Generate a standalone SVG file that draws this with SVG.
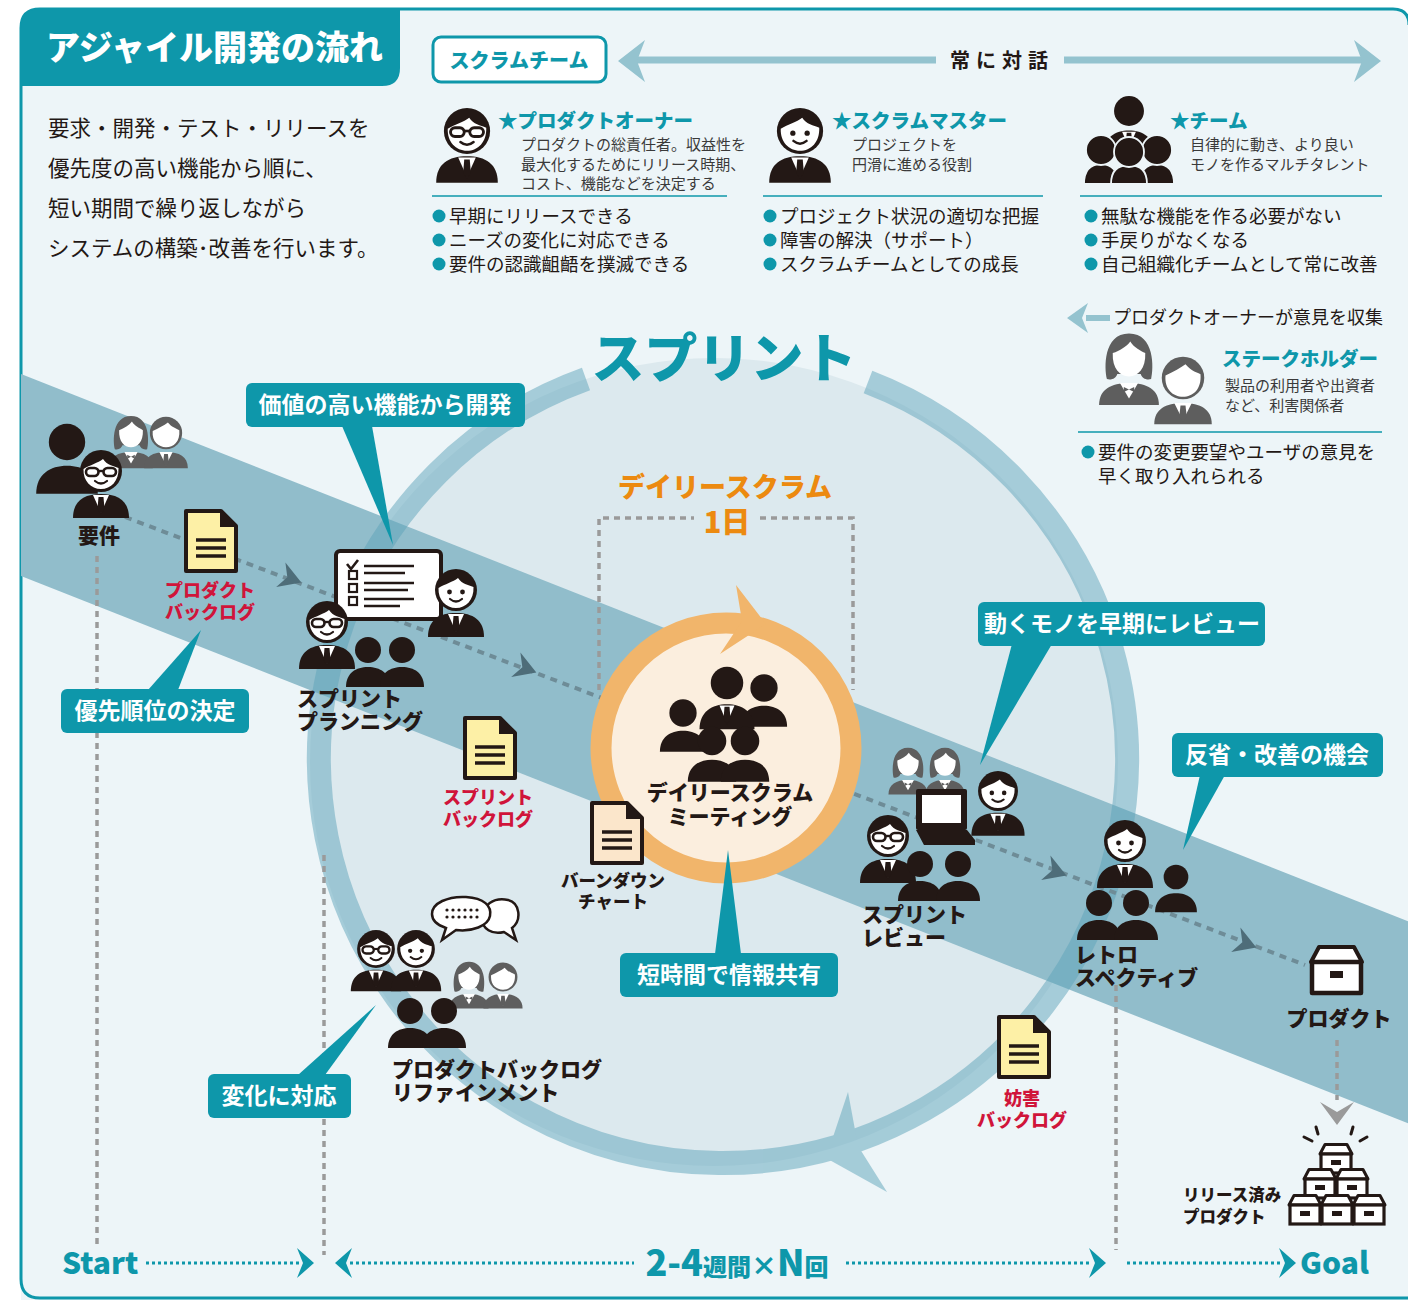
<svg xmlns="http://www.w3.org/2000/svg" width="1408" height="1300" viewBox="0 0 1408 1300">
<style>
text{font-family:"Noto Sans CJK JP","Noto Sans",sans-serif;fill:#231815}
.b{font-weight:700}
.h{font-weight:900}
.w{fill:#fff}
.t{fill:#0e97aa}
.r{fill:#d0143a}
.o{fill:#ec8a10}
.body18{font-size:18.5px}
.desc{font-size:15px;fill:#3a3a3a}
.lbl{font-size:21px;font-weight:900}
.call{fill:#0e97aa}
.calltxt{font-size:23px;font-weight:700;fill:#fff}
.rule{stroke:#0e97aa;stroke-width:1.5}
.flow{stroke:#6e8c97;stroke-width:4;stroke-dasharray:7 6;fill:none}
.vdot{stroke:#9a9a9a;stroke-width:3.5;stroke-dasharray:6 5;fill:none}
.tl{stroke:#0e97aa;stroke-width:3;stroke-dasharray:3 3;fill:none}
</style>
<defs>
  <!-- suited man with face -->
  <g id="man">
    <path d="M-28,47 C-28,30 -17,23 0,23 C17,23 28,30 28,47 Z" fill="#231815"/>
    <path d="M-8,24 L0,42 L8,24 Z" fill="#fff"/>
    <path d="M-2.5,26 H2.5 L3.5,38 L0,43 L-3.5,38 Z" fill="#231815"/>
    <circle r="21" fill="#231815"/>
    <path d="M-17.5,-2 C-11,-6 -3,-8 2,-12 C6,-6 12,-5 17.5,-3 C18,10 10,18 0,18 C-10,18 -18,10 -17.5,-2 Z" fill="#fff"/>
    <circle cx="-6.5" cy="2" r="2.4" fill="#231815"/>
    <circle cx="6.5" cy="2" r="2.4" fill="#231815"/>
    <path d="M-6,9 Q0,14 6,9" stroke="#231815" stroke-width="2.2" fill="none" stroke-linecap="round"/>
  </g>
  <!-- suited man with glasses -->
  <g id="glasses">
    <path d="M-28,47 C-28,30 -17,23 0,23 C17,23 28,30 28,47 Z" fill="#231815"/>
    <path d="M-8,24 L0,42 L8,24 Z" fill="#fff"/>
    <path d="M-2.5,26 H2.5 L3.5,38 L0,43 L-3.5,38 Z" fill="#231815"/>
    <circle r="21" fill="#231815"/>
    <path d="M-17.5,-2 C-11,-6 -3,-8 2,-12 C6,-6 12,-5 17.5,-3 C18,10 10,18 0,18 C-10,18 -18,10 -17.5,-2 Z" fill="#fff"/>
    <rect x="-15" y="-3" width="12.5" height="8" rx="4" fill="#fff" stroke="#231815" stroke-width="2.6"/>
    <rect x="2.5" y="-3" width="12.5" height="8" rx="4" fill="#fff" stroke="#231815" stroke-width="2.6"/>
    <path d="M-2.5,0 H2.5" stroke="#231815" stroke-width="2.4"/>
    <path d="M-6,10 Q0,15 6,10" stroke="#231815" stroke-width="2.2" fill="none" stroke-linecap="round"/>
  </g>
  <!-- plain silhouette -->
  <g id="sil">
    <path d="M-22,37 C-22,23 -12,17 0,17 C12,17 22,23 22,37 Z"/>
    <circle r="13"/>
  </g>
  <!-- silhouette wearing a tie -->
  <g id="silTie">
    <path d="M-22,37 C-22,23 -12,17 0,17 C12,17 22,23 22,37 Z" fill="#231815"/>
    <path d="M-6,18 L0,32 L6,18 Z" fill="#fff"/>
    <path d="M-2,19 H2 L2.8,29 L0,33 L-2.8,29 Z" fill="#231815"/>
    <circle r="13" fill="#231815"/>
  </g>
  <!-- grey woman -->
  <g id="woman">
    <path d="M-23,37 C-23,25 -14,20 0,20 C14,20 23,25 23,37 Z" fill="#5e5e5e"/>
    <path d="M-7,20 L0,32 L7,20 Z" fill="#fff"/>
    <path d="M-4,23 L0,25 L4,23 L4,27 L0,25 L-4,27 Z" fill="#5e5e5e"/>
    <path d="M-17,17 C-19,9 -20,-18 0,-18 C20,-18 19,9 17,17 C13,18 10,16 9,13 L-9,13 C-10,16 -13,18 -17,17 Z" fill="#5e5e5e"/>
    <path d="M-12.5,-3 C-7,-5 -2,-8 1,-12 C4,-7 9,-5 12.5,-3 C13,9 7,15 0,15 C-7,15 -13,9 -12.5,-3 Z" fill="#fff"/>
  </g>
  <!-- grey man -->
  <g id="gman">
    <path d="M-23,37 C-23,25 -14,20 0,20 C14,20 23,25 23,37 Z" fill="#5e5e5e"/>
    <path d="M-7,20 L0,34 L7,20 Z" fill="#fff"/>
    <path d="M-2,22 H2 L3,31 L0,35 L-3,31 Z" fill="#5e5e5e"/>
    <circle r="17" fill="#5e5e5e"/>
    <path d="M-14,-2 C-8,-5 -2,-8 2,-11 C6,-6 10,-5 14,-3 C15,9 8,15 0,15 C-8,15 -15,9 -14,-2 Z" fill="#fff"/>
  </g>
  <!-- backlog sheet -->
  <g id="doc">
    <path d="M2,2 H37 L52,17 V62 H2 Z" stroke="#231815" stroke-width="4" stroke-linejoin="round"/>
    <path d="M36,1 V18 H53 Z" fill="#231815"/>
    <path d="M12,31 H42 M12,39 H42 M12,47 H42" stroke="#231815" stroke-width="3.6"/>
  </g>
  <!-- storage box -->
  <g id="box">
    <path d="M8,2 H43 L51,17 H0 Z" fill="#fff" stroke="#231815" stroke-width="4" stroke-linejoin="round"/>
    <rect x="1" y="17" width="49" height="31" fill="#fff" stroke="#231815" stroke-width="4.5" stroke-linejoin="round"/>
    <rect x="19" y="26" width="13" height="7" fill="#231815"/>
  </g>
  <g id="sbox">
    <path d="M5,1.5 H27 L32,11 H0 Z" fill="#fff" stroke="#231815" stroke-width="3" stroke-linejoin="round"/>
    <rect x="1" y="11" width="30" height="19" fill="#fff" stroke="#231815" stroke-width="3.2"/>
    <rect x="11" y="17" width="10" height="5" fill="#231815"/>
  </g>
  <!-- flow arrowhead -->
  <path id="fa" d="M10,0 L-12,-13 L-5,0 L-12,13 Z" fill="#4e6d79"/>
  <!-- timeline chevrons -->
  <path id="chev" d="M-9,-15 L8,0 L-9,15 L-3,0 Z" fill="#0e97aa"/>
  <clipPath id="panel"><path d="M40,9 H1393 Q1409,9 1409,25 V1300 H21 V28 Q21,9 40,9 Z"/></clipPath>
</defs>

<!-- panel -->
<rect width="1408" height="1300" fill="#fff"/>
<path d="M40,9 H1393 Q1409,9 1409,25 V1420 H40 Q21,1420 21,1400 V28 Q21,9 40,9 Z" fill="#edf5f8"/>
<path d="M1409,1298 H40 Q21,1298 21,1279 V28 Q21,9 40,9 H1393 Q1409,9 1409,25" fill="none" stroke="#0e97aa" stroke-width="3"/>

<g clip-path="url(#panel)">
  <!-- sprint area -->
  <circle cx="714" cy="762" r="404" fill="#dce9ee"/>
  <!-- diagonal flow band -->
  <polygon points="21,374 1420,926 1420,1128 21,576" fill="#91bdcb"/>
</g>

<!-- sprint cycle ring -->
<g id="sprint-ring" opacity="0.5" fill="#5ea4ba">
  <path d="M868,382 A404,404 0 1 1 586,379" fill="none" stroke="#5ea4ba" stroke-width="24"/>
  <path d="M826,1158 L887,1192 L858,1146 L848,1092 Z"/>
</g>
<text x="724" y="378" text-anchor="middle" class="h t" font-size="53">スプリント</text>

<!-- title tab -->
<path d="M21,28 Q21,9 40,9 H400 V68 Q400,86 382,86 H21 Z" fill="#0e97aa"/>
<text x="46" y="60" class="h w" font-size="34">アジャイル開発の流れ</text>

<!-- intro text -->
<g font-size="21.5">
  <text x="48" y="136">要求・開発・テスト・リリースを</text>
  <text x="48" y="176">優先度の高い機能から順に、</text>
  <text x="48" y="216">短い期間で繰り返しながら</text>
  <text x="48" y="256">システムの構築･改善を行います。</text>
</g>

<!-- scrum team header -->
<g id="scrum-team">
  <rect x="433" y="37" width="173" height="45" rx="8" fill="#fff" stroke="#0e97aa" stroke-width="3"/>
  <text x="519" y="68" text-anchor="middle" class="h t" font-size="20">スクラムチーム</text>
</g>
<g id="dialogue">
  <path d="M636,60 H936 M1064,60 H1362" stroke="#94c3cf" stroke-width="7"/>
  <path d="M618,61 L645,40 L637,61 L645,82 Z" fill="#94c3cf"/>
  <path d="M1381,61 L1354,40 L1362,61 L1354,82 Z" fill="#94c3cf"/>
  <text x="1002" y="68" text-anchor="middle" class="b" font-size="20" letter-spacing="6">常に対話</text>
</g>

<!-- product owner -->
<g id="product-owner">
  <use href="#glasses" transform="translate(467,131) scale(1.1)"/>
  <text x="498" y="128" class="h t" font-size="19.5">★プロダクトオーナー</text>
  <text x="521" y="150" class="desc">プロダクトの総責任者。収益性を</text>
  <text x="521" y="170" class="desc">最大化するためにリリース時期、</text>
  <text x="521" y="189" class="desc">コスト、機能などを決定する</text>
  <line x1="432" y1="196" x2="727" y2="196" class="rule"/>
  <g fill="#0e97aa"><circle cx="439" cy="216" r="6.5"/><circle cx="439" cy="240" r="6.5"/><circle cx="439" cy="264" r="6.5"/></g>
  <text x="449" y="223" class="body18">早期にリリースできる</text>
  <text x="449" y="247" class="body18">ニーズの変化に対応できる</text>
  <text x="449" y="271" class="body18">要件の認識齟齬を撲滅できる</text>
</g>

<!-- scrum master -->
<g id="scrum-master">
  <use href="#man" transform="translate(800,131) scale(1.1)"/>
  <text x="832" y="128" class="h t" font-size="19.5">★スクラムマスター</text>
  <text x="852" y="150" class="desc">プロジェクトを</text>
  <text x="852" y="170" class="desc">円滑に進める役割</text>
  <line x1="763" y1="196" x2="1043" y2="196" class="rule"/>
  <g fill="#0e97aa"><circle cx="770" cy="216" r="6.5"/><circle cx="770" cy="240" r="6.5"/><circle cx="770" cy="264" r="6.5"/></g>
  <text x="780" y="223" class="body18">プロジェクト状況の適切な把握</text>
  <text x="780" y="247" class="body18">障害の解決（サポート）</text>
  <text x="780" y="271" class="body18">スクラムチームとしての成長</text>
</g>

<!-- development team -->
<g id="team">
  <use href="#silTie" transform="translate(1129,111) scale(1.15)"/>
  <g fill="#231815" stroke="#edf5f8" stroke-width="1.8">
    <path d="M1084,184 C1084,170 1091,164 1101,164 C1111,164 1118,170 1118,184 Z"/>
    <path d="M1140,184 C1140,170 1147,164 1157,164 C1167,164 1174,170 1174,184 Z"/>
    <path d="M1111,184 C1111,170 1118,165 1129,165 C1140,165 1147,170 1147,184 Z"/>
    <circle cx="1101" cy="150" r="15"/>
    <circle cx="1157" cy="150" r="15"/>
    <circle cx="1129" cy="152" r="15"/>
  </g>
  <text x="1170" y="128" class="h t" font-size="19.5">★チーム</text>
  <text x="1190" y="150" class="desc">自律的に動き、より良い</text>
  <text x="1190" y="170" class="desc">モノを作るマルチタレント</text>
  <line x1="1080" y1="196" x2="1382" y2="196" class="rule"/>
  <g fill="#0e97aa"><circle cx="1091" cy="216" r="6.5"/><circle cx="1091" cy="240" r="6.5"/><circle cx="1091" cy="264" r="6.5"/></g>
  <text x="1101" y="223" class="body18">無駄な機能を作る必要がない</text>
  <text x="1101" y="247" class="body18">手戻りがなくなる</text>
  <text x="1101" y="271" class="body18">自己組織化チームとして常に改善</text>
</g>

<!-- stakeholders -->
<g id="stakeholder">
  <path d="M1086,318 H1110" stroke="#94c3cf" stroke-width="6"/>
  <path d="M1067,318 L1088,303 L1082,318 L1088,333 Z" fill="#94c3cf"/>
  <text x="1113" y="324" font-size="18">プロダクトオーナーが意見を収集</text>
  <use href="#woman" transform="translate(1129,357) scale(1.3)"/>
  <use href="#gman" transform="translate(1183,378) scale(1.25)"/>
  <text x="1222" y="366" class="h t" font-size="19.5">ステークホルダー</text>
  <text x="1225" y="391" class="desc">製品の利用者や出資者</text>
  <text x="1225" y="411" class="desc">など、利害関係者</text>
  <line x1="1078" y1="432" x2="1382" y2="432" class="rule"/>
  <circle cx="1088" cy="452" r="6.5" fill="#0e97aa"/>
  <text class="body18"><tspan x="1098" y="459">要件の変更要望やユーザの意見を</tspan><tspan x="1098" y="483">早く取り入れられる</tspan></text>
</g>

<!-- connectors -->
<g id="connectors">
  <path d="M125,517 L1305,965" class="flow"/>
  <use href="#fa" transform="translate(292,579) rotate(20.8)"/>
  <use href="#fa" transform="translate(527,669) rotate(20.8)"/>
  <use href="#fa" transform="translate(1057,872) rotate(20.8)"/>
  <use href="#fa" transform="translate(1247,944) rotate(20.8)"/>
  <path d="M97,556 V1245" class="vdot"/>
  <path d="M324,855 V1255" class="vdot"/>
  <path d="M1116,985 V1250" class="vdot"/>
  <path d="M599,690 V518 H694 M760,518 H853 V690" class="vdot"/>
  <path d="M1337,1040 V1100" class="vdot"/>
  <path d="M1320,1102 L1337,1112 L1354,1102 L1337,1125 Z" fill="#9a9a9a"/>
</g>

<!-- requirements -->
<g id="requirements">
  <use href="#woman" transform="translate(131,433) scale(0.95)"/>
  <use href="#gman" transform="translate(166,433) scale(0.95)"/>
  <use href="#sil" fill="#231815" transform="translate(67,442) scale(1.4)"/>
  <use href="#glasses" transform="translate(101,471)"/>
  <text x="99" y="543" text-anchor="middle" class="lbl" font-size="22">要件</text>
</g>

<!-- product backlog -->
<g id="product-backlog">
  <use href="#doc" fill="#fdf0a6" transform="translate(184,509)"/>
  <text text-anchor="middle" class="h r" font-size="18"><tspan x="210" y="597">プロダクト</tspan><tspan x="210" y="619">バックログ</tspan></text>
</g>

<!-- sprint planning -->
<g id="sprint-planning">
  <rect x="336" y="551" width="105" height="68" rx="4" fill="#fff" stroke="#231815" stroke-width="4"/>
  <path d="M347,564 L351,569 L358,560" stroke="#231815" stroke-width="2.6" fill="none"/>
  <g fill="none" stroke="#231815" stroke-width="2.2">
    <rect x="349" y="571" width="8" height="8"/>
    <rect x="349" y="584" width="8" height="8"/>
    <rect x="349" y="597" width="8" height="8"/>
  </g>
  <path d="M364,566 H414 M364,573 H405 M364,583 H414 M364,590 H408 M364,599 H414 M364,606 H400" stroke="#231815" stroke-width="2.6"/>
  <use href="#man" transform="translate(456,590)"/>
  <use href="#glasses" transform="translate(327,622)"/>
  <use href="#sil" fill="#231815" transform="translate(368,650)"/>
  <use href="#sil" fill="#231815" transform="translate(402,650)"/>
  <text class="lbl"><tspan x="297" y="706">スプリント</tspan><tspan x="297" y="729">プランニング</tspan></text>
</g>

<!-- sprint backlog -->
<g id="sprint-backlog">
  <use href="#doc" fill="#fdf0a6" transform="translate(463,716)"/>
  <text text-anchor="middle" class="h r" font-size="18"><tspan x="488" y="804">スプリント</tspan><tspan x="488" y="826">バックログ</tspan></text>
</g>

<!-- daily scrum -->
<g id="daily-scrum">
  <text x="725" y="497" text-anchor="middle" class="h o" font-size="27">デイリースクラム</text>
  <text x="727" y="533" text-anchor="middle" class="h o" font-size="29">1日</text>
  <circle cx="726" cy="748" r="125" fill="#fbeede" stroke="#f1b56b" stroke-width="21"/>
  <path d="M766,624 L736,585 L742,621 L720,654 Z" fill="#f1b56b"/>
  <use href="#sil" fill="#231815" transform="translate(764,688) scale(1.05)"/>
  <use href="#silTie" transform="translate(727,683) scale(1.25)"/>
  <use href="#sil" fill="#231815" transform="translate(683,713) scale(1.05)"/>
  <use href="#sil" fill="#231815" transform="translate(712,741) scale(1.1)"/>
  <use href="#sil" fill="#231815" transform="translate(745,741) scale(1.1)"/>
  <text text-anchor="middle" class="lbl"><tspan x="730" y="800">デイリースクラム</tspan><tspan x="730" y="824">ミーティング</tspan></text>
</g>

<!-- burndown chart -->
<g id="burndown">
  <use href="#doc" fill="#fbe6cb" transform="translate(590,801)"/>
  <text text-anchor="middle" class="h" font-size="17.5"><tspan x="613" y="887">バーンダウン</tspan><tspan x="613" y="908">チャート</tspan></text>
</g>

<!-- sprint review -->
<g id="sprint-review">
  <use href="#woman" transform="translate(908,763) scale(0.85)"/>
  <use href="#woman" transform="translate(945,763) scale(0.85)"/>
  <use href="#man" transform="translate(998,791) scale(0.95)"/>
  <rect x="916" y="789" width="51" height="41" rx="2" fill="#231815"/>
  <rect x="922" y="795" width="39" height="28" fill="#fff"/>
  <path d="M916,830 H967 L975,840 V845 H924 Z" fill="#231815"/>
  <use href="#glasses" transform="translate(888,836)"/>
  <use href="#sil" fill="#231815" transform="translate(920,864)"/>
  <use href="#sil" fill="#231815" transform="translate(958,864)"/>
  <text class="lbl"><tspan x="862" y="922">スプリント</tspan><tspan x="862" y="945">レビュー</tspan></text>
</g>

<!-- retrospective -->
<g id="retrospective">
  <use href="#man" transform="translate(1125,841)"/>
  <use href="#sil" fill="#231815" transform="translate(1176,877) scale(0.95)"/>
  <use href="#sil" fill="#231815" transform="translate(1099,903)"/>
  <use href="#sil" fill="#231815" transform="translate(1136,903)"/>
  <text class="lbl"><tspan x="1075" y="962">レトロ</tspan><tspan x="1075" y="985">スペクティブ</tspan></text>
</g>

<!-- product -->
<g id="product">
  <use href="#box" transform="translate(1311,945)"/>
  <text x="1339" y="1026" text-anchor="middle" class="lbl">プロダクト</text>
</g>

<!-- released product -->
<g id="released">
  <path d="M1304,1137 L1312,1141 M1316,1127 L1318,1134 M1353,1127 L1351,1134 M1367,1137 L1360,1141" stroke="#231815" stroke-width="3" stroke-linecap="round"/>
  <use href="#sbox" transform="translate(1320,1143)"/>
  <use href="#sbox" transform="translate(1304,1168)"/>
  <use href="#sbox" transform="translate(1336,1168)"/>
  <use href="#sbox" transform="translate(1289,1194)"/>
  <use href="#sbox" transform="translate(1321,1194)"/>
  <use href="#sbox" transform="translate(1353,1194)"/>
  <text class="h" font-size="16.5"><tspan x="1183" y="1201">リリース済み</tspan><tspan x="1183" y="1223">プロダクト</tspan></text>
</g>

<!-- impediment backlog -->
<g id="impediment-backlog">
  <use href="#doc" fill="#fdf0a6" transform="translate(997,1015)"/>
  <text text-anchor="middle" class="h r" font-size="18"><tspan x="1022" y="1105">妨害</tspan><tspan x="1022" y="1127">バックログ</tspan></text>
</g>

<!-- backlog refinement -->
<g id="refinement">
  <path d="M482,918 C482,905 494,897 508,900 C520,903 522,920 512,928 L516,940 L504,932 C492,935 482,929 482,918 Z" fill="#fff" stroke="#231815" stroke-width="2.5"/>
  <path d="M432,914 C432,903 448,896 466,897 C484,898 492,906 490,916 C488,926 472,932 456,930 L442,940 L446,928 C437,925 432,920 432,914 Z" fill="#fff" stroke="#231815" stroke-width="2.5"/>
  <g fill="#231815">
    <circle cx="447" cy="910" r="1.6"/><circle cx="453" cy="910" r="1.6"/><circle cx="459" cy="910" r="1.6"/><circle cx="465" cy="910" r="1.6"/><circle cx="471" cy="910" r="1.6"/><circle cx="477" cy="910" r="1.6"/>
    <circle cx="447" cy="917" r="1.6"/><circle cx="453" cy="917" r="1.6"/><circle cx="459" cy="917" r="1.6"/><circle cx="465" cy="917" r="1.6"/><circle cx="471" cy="917" r="1.6"/><circle cx="477" cy="917" r="1.6"/>
  </g>
  <use href="#woman" transform="translate(469,977) scale(0.85)"/>
  <use href="#gman" transform="translate(503,977) scale(0.85)"/>
  <use href="#glasses" transform="translate(376,949) scale(0.9)"/>
  <use href="#man" transform="translate(416,949) scale(0.9)"/>
  <use href="#sil" fill="#231815" transform="translate(410,1011)"/>
  <use href="#sil" fill="#231815" transform="translate(444,1011)"/>
  <text class="lbl"><tspan x="392" y="1077">プロダクトバックログ</tspan><tspan x="392" y="1100">リファインメント</tspan></text>
</g>

<!-- callouts -->
<g id="callouts">
  <g>
    <path d="M342,426 L372,426 L393,545 Z" class="call"/>
    <rect x="246" y="383" width="279" height="44" rx="6" class="call"/>
    <text x="385" y="413" text-anchor="middle" class="calltxt">価値の高い機能から開発</text>
  </g>
  <g>
    <path d="M148,690 L178,690 L201,630 Z" class="call"/>
    <rect x="61" y="689" width="188" height="44" rx="6" class="call"/>
    <text x="155" y="719" text-anchor="middle" class="calltxt">優先順位の決定</text>
  </g>
  <g>
    <path d="M1012,644 L1052,644 L980,765 Z" class="call"/>
    <rect x="978" y="602" width="287" height="44" rx="6" class="call"/>
    <text x="1122" y="632" text-anchor="middle" class="calltxt">動くモノを早期にレビュー</text>
  </g>
  <g>
    <path d="M1200,775 L1225,775 L1183,850 Z" class="call"/>
    <rect x="1172" y="733" width="211" height="44" rx="6" class="call"/>
    <text x="1277" y="763" text-anchor="middle" class="calltxt">反省・改善の機会</text>
  </g>
  <g>
    <path d="M715,954 L741,954 L728,850 Z" class="call"/>
    <rect x="620" y="953" width="218" height="44" rx="6" class="call"/>
    <text x="729" y="983" text-anchor="middle" class="calltxt">短時間で情報共有</text>
  </g>
  <g>
    <path d="M298,1075 L325,1075 L376,1005 Z" class="call"/>
    <rect x="208" y="1074" width="143" height="44" rx="6" class="call"/>
    <text x="279" y="1104" text-anchor="middle" class="calltxt">変化に対応</text>
  </g>
</g>

<!-- timeline -->
<g id="timeline">
  <text x="62" y="1274" class="h t" font-size="30">Start</text>
  <path d="M146,1263 H300" class="tl"/>
  <use href="#chev" transform="translate(306,1263)"/>
  <use href="#chev" transform="translate(343,1263) scale(-1,1)"/>
  <path d="M350,1263 H634" class="tl"/>
  <text x="737" y="1276" text-anchor="middle" class="h t"><tspan font-size="36">2-4</tspan><tspan font-size="24">週間</tspan><tspan font-size="26">×</tspan><tspan font-size="36">N</tspan><tspan font-size="24">回</tspan></text>
  <path d="M846,1263 H1092" class="tl"/>
  <use href="#chev" transform="translate(1098,1263)"/>
  <path d="M1127,1263 H1282" class="tl"/>
  <use href="#chev" transform="translate(1288,1263)"/>
  <text x="1300" y="1274" class="h t" font-size="30">Goal</text>
</g>
</svg>
